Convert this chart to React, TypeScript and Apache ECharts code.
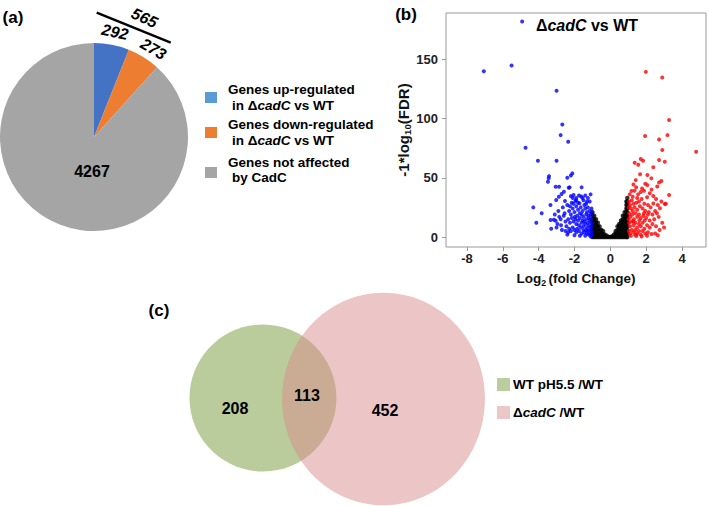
import React, { useEffect, useRef } from 'react';
import * as echarts from 'echarts';

// ---------- Panel (a): pie ----------
const pieCategories = [
  'Genes up-regulated in ΔcadC vs WT',
  'Genes down-regulated in ΔcadC vs WT',
  'Genes not affected by CadC',
];
const pieValues = [292, 273, 4267];
const pieChangedTotal = 565;
const pieColors = ['#4472C4', '#ED7D31', '#A5A5A5'];
const pieLegendColors = ['#5B9BD5', '#ED7D31', '#A5A5A5'];

// ---------- Panel (b): volcano ----------
const xTicks = [-8, -6, -4, -2, 0, 2, 4];
const yTicks = [0, 50, 100, 150];

const bluePoints: number[][] = [
  [-4.92, 182], [-7.06, 140], [-5.51, 144.8], [-3.0, 123.4], [-2.68, 95], [-2.77, 86],
  [-2.35, 80.4], [-4.73, 75.3], [-4.04, 64.3], [-3.0, 64.3], [-2.12, 53.7], [-2.2, 52],
  [-2.4, 50], [-3.42, 51.4], [-3.44, 49.6], [-3.48, 46.6], [-3.05, 42.4], [-2.86, 42.4],
  [-2.27, 41.9], [-2.32, 41.5], [-1.6, 41.9], [-1.1, 36], [-4.3, 25], [-3.83, 20],
  [-4.13, 12], [-3.34, 27],
  [-2.59, 38.2], [-2.72, 36.3], [-2.87, 34], [-3.02, 31.2], [-2.53, 30.4], [-2.2, 34.5],
  [-2.05, 35.5], [-1.9, 33], [-1.75, 35], [-1.62, 34.2], [-1.95, 30.5], [-2.15, 29],
  [-1.5, 31], [-1.3, 30], [-1.72, 28.5], [-2.4, 27], [-2.65, 25], [-2.9, 22],
  [-3.15, 14.5], [-3.33, 14.3], [-3.05, 13.7], [-2.77, 14.9], [-3.0, 8], [-3.3, 7],
  [-2.7, 6], [-2.5, 5], [-2.35, 4],
  [-2.3, 22], [-2.2, 19], [-2.1, 24], [-2.0, 21], [-1.9, 26], [-1.85, 18], [-1.8, 23],
  [-1.7, 20], [-1.65, 25], [-1.55, 22], [-1.5, 17], [-1.45, 27], [-1.4, 24], [-1.35, 19],
  [-1.3, 21], [-1.25, 25], [-1.2, 16], [-1.15, 22], [-1.1, 19], [-1.05, 24],
  [-2.35, 15], [-2.25, 12], [-2.15, 16], [-2.05, 13], [-1.95, 15], [-1.9, 11], [-1.8, 14],
  [-1.75, 10], [-1.7, 16], [-1.6, 12], [-1.55, 14], [-1.5, 9], [-1.45, 13], [-1.4, 11],
  [-1.35, 15], [-1.3, 8], [-1.25, 12], [-1.2, 10], [-1.15, 14], [-1.1, 8], [-1.05, 12],
  [-2.45, 9], [-2.3, 7], [-2.2, 5], [-2.1, 8], [-2.0, 6], [-1.9, 4], [-1.85, 7],
  [-1.75, 5], [-1.65, 8], [-1.6, 3], [-1.5, 6], [-1.45, 4], [-1.35, 6], [-1.3, 3],
  [-1.25, 5], [-1.2, 2], [-1.15, 6], [-1.1, 3], [-1.05, 5], [-1.02, 2],
  [-2.6, 18], [-2.5, 13], [-2.55, 20], [-2.75, 10], [-2.85, 17], [-3.1, 19], [-2.95, 11],
  [-2.4, 2], [-2.0, 1.5], [-1.7, 1], [-1.4, 1], [-1.1, 0.5], [-1.8, 29], [-2.05, 28],
  [-1.35, 28], [-1.15, 30], [-1.6, 19], [-2.25, 26], [-1.98, 17], [-1.22, 18], [-1.08, 15],
  [-1.02, 20], [-1.04, 9], [-1.9, 31], [-1.55, 33], [-2.1, 33], [-1.25, 33], [-1.4, 35],
];

const redPoints: number[][] = [
  [1.98, 139.4], [2.9, 134.6], [3.28, 98.7], [1.94, 85.2], [2.72, 82.4], [3.19, 86],
  [4.79, 72], [2.9, 73.4], [1.7, 65.8], [1.83, 64.3], [2.72, 65], [3.04, 63.5],
  [1.36, 62.7], [1.56, 61], [2.4, 58.8], [1.66, 53], [2.07, 52.3], [2.29, 49.5],
  [1.42, 48], [2.85, 47.2], [2.72, 46], [1.29, 44.4], [2.07, 43.8], [1.44, 42],
  [1.77, 41], [2.62, 42.7], [1.88, 39], [1.18, 38.8], [3.28, 35.4], [2.4, 34.6],
  [1.5, 33], [2.05, 33.5], [3.04, 27.8], [2.4, 28.2], [2.77, 24.2], [2.6, 20],
  [1.05, 30], [1.1, 27], [1.2, 31], [1.3, 28], [1.45, 29], [1.6, 30], [1.75, 32],
  [1.9, 28], [2.1, 27], [2.25, 25], [1.15, 24], [1.25, 22], [1.35, 25], [1.5, 23],
  [1.65, 26], [1.8, 24], [1.95, 22], [2.15, 21], [2.35, 19], [2.5, 22],
  [1.05, 20], [1.12, 17], [1.22, 19], [1.32, 15], [1.4, 20], [1.5, 17], [1.6, 19],
  [1.7, 16], [1.85, 18], [2.0, 16], [2.2, 14], [2.45, 15], [2.7, 17], [2.9, 12],
  [1.05, 12], [1.1, 9], [1.2, 13], [1.3, 10], [1.4, 12], [1.5, 8], [1.6, 11], [1.7, 9],
  [1.8, 12], [1.9, 7], [2.05, 10], [2.2, 8], [2.35, 11], [2.55, 9], [2.75, 6], [3.0, 8],
  [1.03, 5], [1.1, 3], [1.2, 6], [1.3, 4], [1.4, 6], [1.5, 3], [1.6, 5], [1.7, 2],
  [1.8, 5], [1.95, 3], [2.1, 4], [2.3, 2.5], [2.5, 3], [2.65, 1.5], [1.15, 1], [1.45, 0.8],
  [1.75, 0.5], [2.05, 1],
  [1.08, 36], [1.25, 34], [1.55, 36], [1.7, 38], [2.2, 37], [1.35, 39], [1.95, 45],
  [2.3, 40], [2.55, 32], [2.85, 30], [3.1, 28], [2.65, 27], [1.02, 15], [1.02, 25],
  [1.28, 13], [1.62, 14], [1.92, 14], [2.1, 19], [1.38, 2], [1.88, 20],
];

const blackPoints: number[][] = [
  [-1.0, 0], [-1.0, 3], [-1.0, 6], [-1.0, 9], [-1.0, 12], [-1.0, 15], [-1.0, 18], [-1.0, 21],
  [-0.9, 0], [-0.9, 3], [-0.9, 6], [-0.9, 9], [-0.9, 12], [-0.9, 15], [-0.9, 18],
  [-0.8, 0], [-0.8, 3], [-0.8, 6], [-0.8, 9], [-0.8, 12], [-0.8, 15],
  [-0.7, 0], [-0.7, 3], [-0.7, 6], [-0.7, 9], [-0.7, 12],
  [-0.6, 0], [-0.6, 3], [-0.6, 6], [-0.6, 9],
  [-0.5, 0], [-0.5, 3], [-0.5, 6],
  [-0.4, 0], [-0.4, 2.5], [-0.4, 5],
  [-0.3, 0], [-0.3, 2],
  [-0.2, 0], [-0.2, 1],
  [-0.1, 0], [0, 0], [0.1, 0], [0.1, 0.5],
  [0.2, 0], [0.2, 2],
  [0.3, 0], [0.3, 3], [0.3, 5],
  [0.4, 0], [0.4, 3], [0.4, 6], [0.4, 9],
  [0.5, 0], [0.5, 3], [0.5, 6], [0.5, 9], [0.5, 11],
  [0.6, 0], [0.6, 3], [0.6, 6], [0.6, 9], [0.6, 12], [0.6, 14],
  [0.7, 0], [0.7, 3], [0.7, 6], [0.7, 9], [0.7, 12], [0.7, 15], [0.7, 18],
  [0.8, 0], [0.8, 3], [0.8, 6], [0.8, 9], [0.8, 12], [0.8, 15], [0.8, 18], [0.8, 21],
  [0.9, 0], [0.9, 3], [0.9, 6], [0.9, 9], [0.9, 12], [0.9, 15], [0.9, 18], [0.9, 21],
  [0.9, 24], [0.9, 27], [0.9, 30],
  [0.95, 0], [0.95, 3], [0.95, 6], [0.95, 9], [0.95, 12], [0.95, 15], [0.95, 18],
  [0.95, 21], [0.95, 24], [0.95, 27], [0.95, 30], [0.95, 33],
];

// ---------- Panel (c): Venn ----------
const vennNames = ['WT pH5.5 /WT', 'ΔcadC /WT'];
const vennOnlyA = 208;
const vennBoth = 113;
const vennOnlyB = 452;

const FONT = '"Liberation Sans", Arial, Helvetica, sans-serif';

function lbl(x: number, y: number, text: string, size: number, extra: any = {}, rot = 0) {
  return {
    type: 'text', x, y, rotation: rot, z: 100,
    style: {
      text, fontSize: size, fontWeight: 'bold', fontFamily: FONT, fill: '#000',
      align: 'center', verticalAlign: 'middle', ...extra,
    },
  };
}

function richLine(x: number, y: number, text: string, size: number, align = 'left') {
  return {
    type: 'text', x, y, z: 100,
    style: {
      text, align, verticalAlign: 'middle', fontFamily: FONT, fill: '#000',
      rich: {
        b: { fontSize: size, fontWeight: 'bold', fontFamily: FONT, fill: '#000' },
        i: { fontSize: size, fontWeight: 'bold', fontStyle: 'italic', fontFamily: FONT, fill: '#000' },
      },
    },
  };
}

export default function App() {
  const ref = useRef<HTMLDivElement>(null);
  useEffect(() => {
    if (!ref.current) return;
    const chart = echarts.init(ref.current, undefined, { renderer: 'svg' });

    const vennK = 73.5 / Math.sqrt(vennOnlyA + vennBoth);
    const rA = vennK * Math.sqrt(vennOnlyA + vennBoth);
    const rB = vennK * Math.sqrt(vennOnlyB + vennBoth);

    const deg = Math.PI / 180;
    const graphic: any[] = [
      lbl(13, 17, '(a)', 17),
      lbl(406, 14, '(b)', 17),
      lbl(159, 310, '(c)', 17),
      // pie annotations
      {
        type: 'line', z: 100,
        shape: { x1: 96.7, y1: 12.7, x2: 170.7, y2: 42.7 },
        style: { stroke: '#000', lineWidth: 2.5 },
      },
      lbl(144.5, 18, String(pieChangedTotal), 16, { fontStyle: 'italic' }, -25 * deg),
      lbl(115, 32, String(pieValues[0]), 16, { fontStyle: 'italic' }, -12 * deg),
      lbl(153.5, 49, String(pieValues[1]), 16, { fontStyle: 'italic' }, -30 * deg),
      lbl(92, 171, String(pieValues[2]), 16),
      // pie legend
      { type: 'rect', z: 100, shape: { x: 205, y: 92, width: 12, height: 11 }, style: { fill: pieLegendColors[0] } },
      { type: 'rect', z: 100, shape: { x: 205, y: 127, width: 12, height: 11 }, style: { fill: pieLegendColors[1] } },
      { type: 'rect', z: 100, shape: { x: 205, y: 167, width: 12, height: 11 }, style: { fill: pieLegendColors[2] } },
      richLine(228, 89.5, '{b|Genes up-regulated}', 13.5),
      richLine(232, 105, '{b|in Δ}{i|cadC }{b|vs WT}', 13.5),
      richLine(228, 124, '{b|Genes down-regulated}', 13.5),
      richLine(232, 140, '{b|in Δ}{i|cadC }{b|vs WT}', 13.5),
      richLine(228, 162, '{b|Genes not affected}', 13.5),
      richLine(232, 177, '{b|by CadC}', 13.5),
      // volcano title
      richLine(587, 25, '{b|Δ}{i|cadC }{b|vs WT}', 16, 'center'),
      // Venn
      {
        type: 'ellipse', z: 50,
        shape: { cx: 263, cy: 398, rx: rA, ry: rA },
        style: { fill: 'rgb(186,203,156)' },
      },
      {
        type: 'ellipse', z: 51,
        shape: { cx: 383.5, cy: 399, rx: rB * 1.04, ry: rB * 1.09 },
        style: { fill: 'rgba(218,142,142,0.5)' },
      },
      lbl(235, 408, String(vennOnlyA), 16),
      lbl(307, 395, String(vennBoth), 16),
      lbl(385, 410, String(vennOnlyB), 16),
      { type: 'rect', z: 100, shape: { x: 497, y: 378, width: 13, height: 13 }, style: { fill: 'rgb(187,204,158)' } },
      { type: 'rect', z: 100, shape: { x: 497, y: 406, width: 13, height: 13 }, style: { fill: 'rgb(236,199,199)' } },
      richLine(513, 384.5, '{b|' + vennNames[0] + '}', 13.5),
      richLine(513, 412.5, '{b|Δ}{i|cadC }{b|/WT}', 13.5),
    ];

    const axisRich = (size: number) => ({
      a: { fontSize: size, fontWeight: 'bold', fontFamily: FONT, color: '#111', lineHeight: 18 },
      s: { fontSize: size * 0.65, fontWeight: 'bold', fontFamily: FONT, color: '#111', lineHeight: 8, verticalAlign: 'bottom' },
    });

    const option: any = {
      animation: false,
      textStyle: { fontFamily: FONT },
      grid: {
        left: 446, top: 13, width: 260, height: 234,
        show: true, borderColor: '#999', borderWidth: 1, backgroundColor: 'transparent',
      },
      xAxis: {
        type: 'value', min: -9.17, max: 5.34,
        axisLine: { show: false, onZero: false },
        splitLine: { show: false },
        axisTick: { show: true, length: 4, lineStyle: { color: '#999' }, customValues: xTicks },
        axisLabel: { customValues: xTicks, fontSize: 13, fontWeight: 'bold', color: '#222', margin: 5, fontFamily: FONT },
        name: '{a|Log}{s|2 }{a|(fold Change)}',
        nameLocation: 'middle', nameGap: 22,
        nameTextStyle: { rich: axisRich(13.5) },
      },
      yAxis: {
        type: 'value', min: -8.44, max: 189.1,
        axisLine: { show: false, onZero: false },
        splitLine: { show: false },
        axisTick: { show: true, length: 4, lineStyle: { color: '#999' }, customValues: yTicks },
        axisLabel: { customValues: yTicks, fontSize: 13, fontWeight: 'bold', color: '#222', margin: 8, fontFamily: FONT },
        name: '{a|-1*log}{s|10}{a|(FDR)}',
        nameLocation: 'middle', nameGap: 22,
        nameTextStyle: { rich: axisRich(15) },
      },
      series: [
        {
          type: 'pie', center: [94, 137], radius: 94, startAngle: 90, clockwise: true,
          label: { show: false }, labelLine: { show: false }, silent: true,
          itemStyle: { borderWidth: 0 },
          data: pieCategories.map((name, i) => ({ name, value: pieValues[i], itemStyle: { color: pieColors[i] } })),
        },
        { type: 'scatter', data: blackPoints, symbolSize: 4.5, itemStyle: { color: '#000' }, silent: true },
        { type: 'scatter', data: bluePoints, symbolSize: 4, itemStyle: { color: '#0000FF' }, silent: true },
        { type: 'scatter', data: redPoints, symbolSize: 4, itemStyle: { color: '#FF0000' }, silent: true },
      ],
      graphic,
    };
    chart.setOption(option);
    return () => chart.dispose();
  }, []);
  return <div ref={ref} style={{ position: 'fixed', left: 0, top: 0, width: 709, height: 506, background: '#fff' }} />;
}
